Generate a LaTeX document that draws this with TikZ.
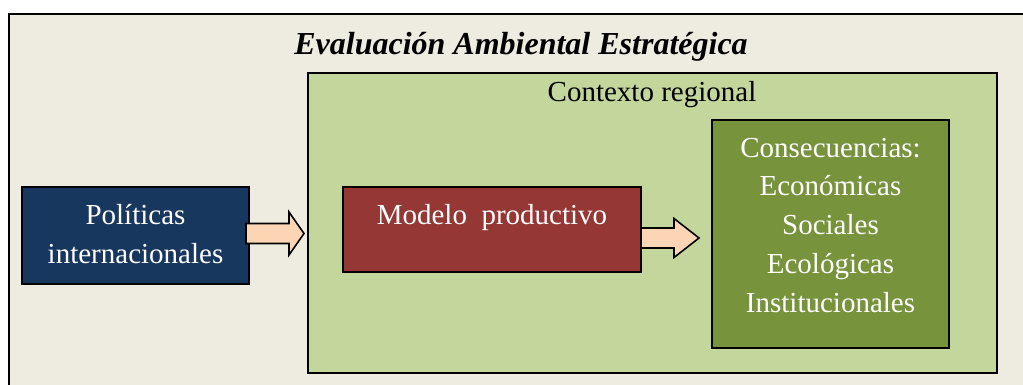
\documentclass[tikz,border=0pt]{standalone}
\usepackage{fontspec}
\setmainfont{Liberation Serif}
\usetikzlibrary{calc}
\definecolor{bgtan}{HTML}{EEEBE0}
\definecolor{ctxgreen}{HTML}{C3D69B}
\definecolor{consgreen}{HTML}{77933C}
\definecolor{modred}{HTML}{953735}
\definecolor{polblue}{HTML}{17375E}
\definecolor{peach}{HTML}{FCD5B5}
\tikzset{
  boxstyle/.style={draw=black, line width=1.6pt, rectangle, inner sep=0pt, outer sep=0pt},
  bodytext/.style={font=\fontsize{29}{38.75}\selectfont, align=center, inner sep=0pt, anchor=base},
  barrow/.style={draw=black, line width=1.6pt, fill=peach, line join=miter}
}
\begin{document}
\begin{tikzpicture}[x=1pt,y=-1pt]
\useasboundingbox (0,0) rectangle (1023,385);
\clip (0,0) rectangle (1023,385);
\fill[white] (0,0) rectangle (1023,385);
% outer frame
\node[boxstyle, fill=bgtan, minimum width=1031, minimum height=386] (eae) at (524.5,207) {};
\node[font=\fontsize{32}{38}\selectfont\bfseries\itshape, inner sep=0pt, anchor=base] (title) at (521,55) {Evaluación Ambiental Estratégica};
% regional context
\node[boxstyle, fill=ctxgreen, minimum width=689, minimum height=300] (ctx) at (652.5,223) {};
\node[bodytext] (ctxlabel) at (652,102) {Contexto regional};
% policies
\node[boxstyle, fill=polblue, minimum width=227, minimum height=97] (pol) at (135.5,235.5) {};
\node[bodytext, text=white] (pollabel) at (135.5,263) {Políticas\\internacionales};
% productive model
\node[boxstyle, fill=modred, minimum width=298, minimum height=85] (mod) at (492,229.5) {};
\node[bodytext, text=white] (modlabel) at (492,224) {Modelo\ \ productivo};
% consequences
\node[boxstyle, fill=consgreen, minimum width=237, minimum height=228] (cons) at (830.5,234) {};
\node[bodytext, text=white] (conslabel) at (830.5,312) {Consecuencias:\\Económicas\\Sociales\\Ecológicas\\Institucionales};
% arrow 1: policies -> context
\coordinate (a1s) at ($(pol.east)+(-3,-2)$);
\coordinate (a1t) at ($(ctx.west|-a1s)+(-4,0)$);
\draw[barrow] ($(a1s)+(0,-10)$) -- ($(a1t)+(-15,-10)$) -- ($(a1t)+(-15,-21.5)$) -- (a1t)
  -- ($(a1t)+(-15,21.5)$) -- ($(a1t)+(-15,10)$) -- ($(a1s)+(0,10)$) -- cycle;
% arrow 2: model -> consequences
\coordinate (a2s) at ($(mod.east)+(0,8.5)$);
\coordinate (a2t) at ($(cons.west|-a2s)+(-13,0)$);
\draw[barrow] ($(a2s)+(0,-10)$) -- ($(a2t)+(-25,-10)$) -- ($(a2t)+(-25,-19.5)$) -- (a2t)
  -- ($(a2t)+(-25,19.5)$) -- ($(a2t)+(-25,10)$) -- ($(a2s)+(0,10)$) -- cycle;
\end{tikzpicture}
\end{document}
